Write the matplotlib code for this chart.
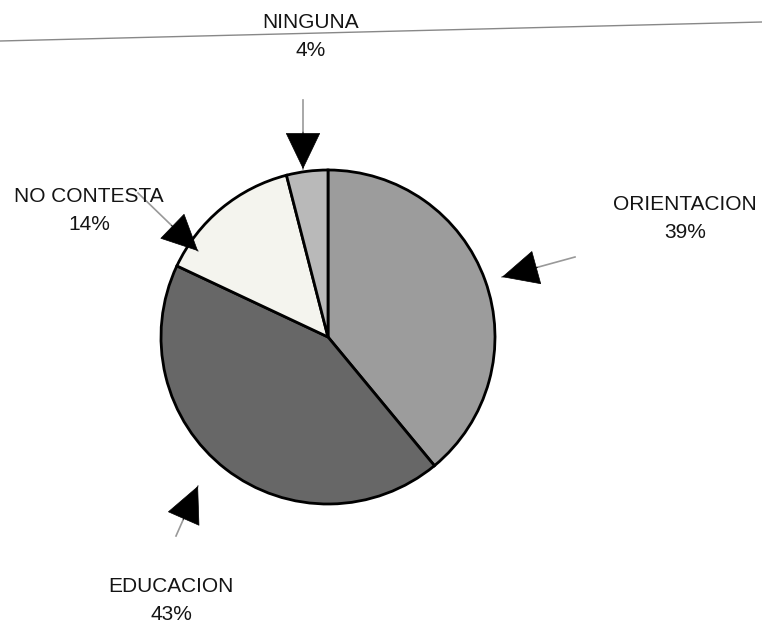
import matplotlib
matplotlib.use('Agg')
import matplotlib.pyplot as plt

plt.rcParams["font.family"] = ["Liberation Sans", "DejaVu Sans"]

# datos
categorias = ['ORIENTACION', 'EDUCACION', 'NO CONTESTA', 'NINGUNA']
porcentajes = [39, 43, 14, 4]
colores = ['#9c9c9c', '#676767', '#f4f4ee', '#b9b9b9']

# posiciones (pixeles de la imagen, y hacia abajo)
W, H = 762, 626
centro = (328, 337)
radio = 167
pos_texto = {
    'ORIENTACION': (685, 218),
    'EDUCACION': (171, 600),
    'NO CONTESTA': (89, 211),
    'NINGUNA': (311, 36),
}
flechas = {
    'ORIENTACION': ((575, 257), (502, 277)),
    'EDUCACION': ((176, 536), (198, 486)),
    'NO CONTESTA': ((138, 193), (198, 251)),
    'NINGUNA': ((303, 100), (303, 169)),
}


def yy(y):
    return H - y


fig = plt.figure(figsize=(W / 100, H / 100), dpi=100)
ax = fig.add_axes([0, 0, 1, 1])

ax.pie(porcentajes, colors=colores, startangle=90, counterclock=False,
       center=(centro[0], yy(centro[1])), radius=radio, frame=True,
       wedgeprops=dict(edgecolor='black', linewidth=2))
ax.set_xlim(0, W)
ax.set_ylim(0, H)
ax.set_aspect('equal')
ax.axis('off')

# linea del escaneo
ax.plot([0, W], [yy(41), yy(22)], color='#888888', lw=1)

for cat, p in zip(categorias, porcentajes):
    x, y = pos_texto[cat]
    ax.text(x, yy(y), f"{cat}\n{p}%", ha='center', va='center',
            fontsize=15, linespacing=1.6, color='#141414')
    (x0, y0), (x1, y1) = flechas[cat]
    # cola gris
    ax.plot([x0, x1], [yy(y0), yy(y1)], color='#999999', lw=1.2)
    # cabeza negra
    dx, dy = x1 - x0, y1 - y0
    d = (dx ** 2 + dy ** 2) ** 0.5
    hx, hy = x1 - dx / d * 37, y1 - dy / d * 37
    ax.annotate('', xy=(x1, yy(y1)), xytext=(hx, yy(hy)),
                arrowprops=dict(arrowstyle='-|>,head_length=2.5,head_width=1.2',
                                color='black', lw=0.5, shrinkA=0, shrinkB=0))

fig.savefig('out.png', dpi=100)
